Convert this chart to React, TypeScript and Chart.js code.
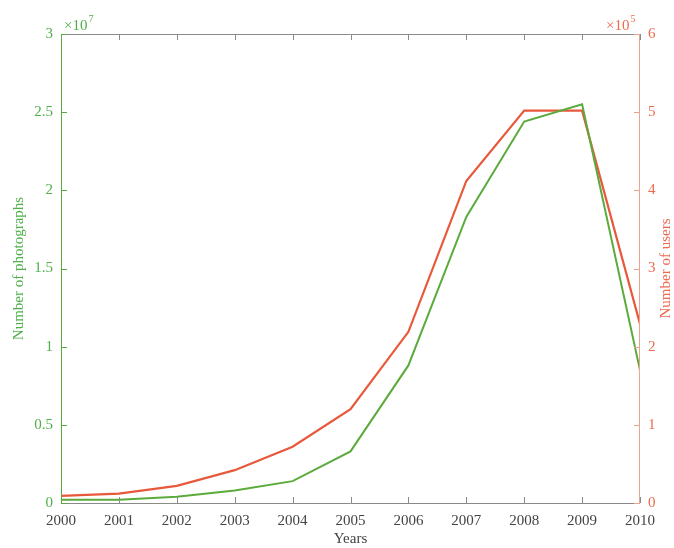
import React, { useEffect, useRef } from "react";
import { Chart, registerables } from "chart.js";

Chart.register(...registerables);

// Yearly totals
const years = [2000, 2001, 2002, 2003, 2004, 2005, 2006, 2007, 2008, 2009, 2010];
// Number of photographs, in units of 10^7
const photographs = [0.02, 0.02, 0.04, 0.08, 0.14, 0.33, 0.88, 1.83, 2.44, 2.55, 0.85];
// Number of users, in units of 10^5
const users = [0.09, 0.12, 0.22, 0.42, 0.72, 1.2, 2.19, 4.12, 5.02, 5.02, 2.29];

const leftTicks = [0, 0.5, 1, 1.5, 2, 2.5, 3];
const rightTicks = [0, 1, 2, 3, 4, 5, 6];

const GREEN = "#5aab3c";
const GREEN_TEXT = "#4fb04a";
const RED = "#e8583a";
const RED_TEXT = "#ec6a4e";
const GRAY = "#8a8a8a";
const FONT = "'Liberation Serif', 'Times New Roman', serif";

// "×10" followed by a raised exponent
function drawExponent(ctx: any, x: number, y: number, exp: string, color: string) {
  ctx.fillStyle = color;
  ctx.font = `15px ${FONT}`;
  ctx.fillText("×10", x, y);
  const w = ctx.measureText("×10").width;
  ctx.font = `10px ${FONT}`;
  ctx.fillText(exp, x + w + 1, y - 8);
}

const frame = {
  id: "frame",
  afterDraw(chart: any) {
    const { ctx, chartArea } = chart;
    const { left, right, top, bottom } = chartArea;
    const xs = chart.scales.x;
    const yl = chart.scales.yL;
    const yr = chart.scales.yR;
    const tick = 6;
    ctx.save();
    ctx.lineWidth = 1;

    // top and bottom axis lines with inward ticks
    ctx.strokeStyle = GRAY;
    ctx.beginPath();
    ctx.moveTo(left, bottom + 0.5);
    ctx.lineTo(right, bottom + 0.5);
    ctx.moveTo(left, top + 0.5);
    ctx.lineTo(right, top + 0.5);
    years.forEach((v) => {
      const px = Math.round(xs.getPixelForValue(v)) + 0.5;
      ctx.moveTo(px, bottom);
      ctx.lineTo(px, bottom - tick);
      ctx.moveTo(px, top);
      ctx.lineTo(px, top + tick);
    });
    ctx.stroke();

    // left axis
    ctx.strokeStyle = GREEN;
    ctx.beginPath();
    ctx.moveTo(left + 0.5, top);
    ctx.lineTo(left + 0.5, bottom);
    leftTicks.forEach((v) => {
      const py = Math.round(yl.getPixelForValue(v)) + 0.5;
      ctx.moveTo(left, py);
      ctx.lineTo(left + tick, py);
    });
    ctx.stroke();

    // right axis
    ctx.strokeStyle = "#e9a48e";
    ctx.beginPath();
    ctx.moveTo(right - 0.5, top);
    ctx.lineTo(right - 0.5, bottom);
    rightTicks.forEach((v) => {
      const py = Math.round(yr.getPixelForValue(v)) + 0.5;
      ctx.moveTo(right, py);
      ctx.lineTo(right - tick, py);
    });
    ctx.stroke();

    // exponent markers
    ctx.textBaseline = "alphabetic";
    ctx.textAlign = "left";
    drawExponent(ctx, left + 3, top - 4, "7", GREEN_TEXT);
    drawExponent(ctx, right - 34, top - 4, "5", RED_TEXT);

    // axis titles, both reading bottom to top
    const midY = (top + bottom) / 2;
    ctx.font = `15px ${FONT}`;
    ctx.textAlign = "center";
    ctx.textBaseline = "middle";
    ctx.fillStyle = GREEN_TEXT;
    ctx.save();
    ctx.translate(19, midY);
    ctx.rotate(-Math.PI / 2);
    ctx.fillText("Number of photographs", 0, 0);
    ctx.restore();
    ctx.fillStyle = RED_TEXT;
    ctx.save();
    ctx.translate(666, midY);
    ctx.rotate(-Math.PI / 2);
    ctx.fillText("Number of users", 0, 0);
    ctx.restore();

    ctx.restore();
  },
};

export default function App() {
  const ref = useRef<HTMLCanvasElement>(null);

  useEffect(() => {
    if (!ref.current) return;
    const chart = new Chart(ref.current, {
      type: "line",
      data: {
        datasets: [
          {
            label: "Number of photographs",
            data: years.map((x, i) => ({ x, y: photographs[i] })),
            borderColor: GREEN,
            borderWidth: 2,
            pointRadius: 0,
            tension: 0,
            yAxisID: "yL",
          },
          {
            label: "Number of users",
            data: years.map((x, i) => ({ x, y: users[i] })),
            borderColor: RED,
            borderWidth: 2.2,
            pointRadius: 0,
            tension: 0,
            yAxisID: "yR",
          },
        ],
      },
      plugins: [frame],
      options: {
        animation: false,
        responsive: false,
        layout: { padding: { top: 34, left: 0, right: 0, bottom: 0 } },
        plugins: {
          legend: { display: false },
          tooltip: { enabled: false },
        },
        scales: {
          x: {
            type: "linear",
            min: 2000,
            max: 2010,
            afterFit: (s: any) => {
              s.height = 45;
            },
            afterBuildTicks: (s: any) => {
              s.ticks = years.map((v) => ({ value: v }));
            },
            grid: { display: false },
            border: { display: false },
            ticks: {
              color: "#444",
              font: { family: FONT, size: 15 },
              padding: 1,
              maxRotation: 0,
              autoSkip: false,
              callback: (v: any) => String(v),
            },
            title: {
              display: true,
              text: "Years",
              color: "#444",
              font: { family: FONT, size: 15 },
              padding: { top: -1, bottom: 0 },
            },
          },
          yL: {
            type: "linear",
            position: "left",
            min: 0,
            max: 3,
            afterFit: (s: any) => {
              s.width = 61;
            },
            afterBuildTicks: (s: any) => {
              s.ticks = leftTicks.map((v) => ({ value: v }));
            },
            grid: { display: false },
            border: { display: false },
            ticks: {
              color: GREEN_TEXT,
              font: { family: FONT, size: 15 },
              padding: 0,
              callback: (v: any) => String(v),
            },
          },
          yR: {
            type: "linear",
            position: "right",
            min: 0,
            max: 6,
            afterFit: (s: any) => {
              s.width = 34;
            },
            afterBuildTicks: (s: any) => {
              s.ticks = rightTicks.map((v) => ({ value: v }));
            },
            grid: { display: false },
            border: { display: false },
            ticks: {
              color: RED_TEXT,
              font: { family: FONT, size: 15 },
              padding: 0,
              callback: (v: any) => String(v),
            },
          },
        },
      },
    });
    return () => chart.destroy();
  }, []);

  return (
    <div style={{ position: "fixed", left: 0, top: 0, width: 674, height: 548, background: "#fff" }}>
      <canvas ref={ref} width={674} height={548} style={{ display: "block" }} />
    </div>
  );
}
